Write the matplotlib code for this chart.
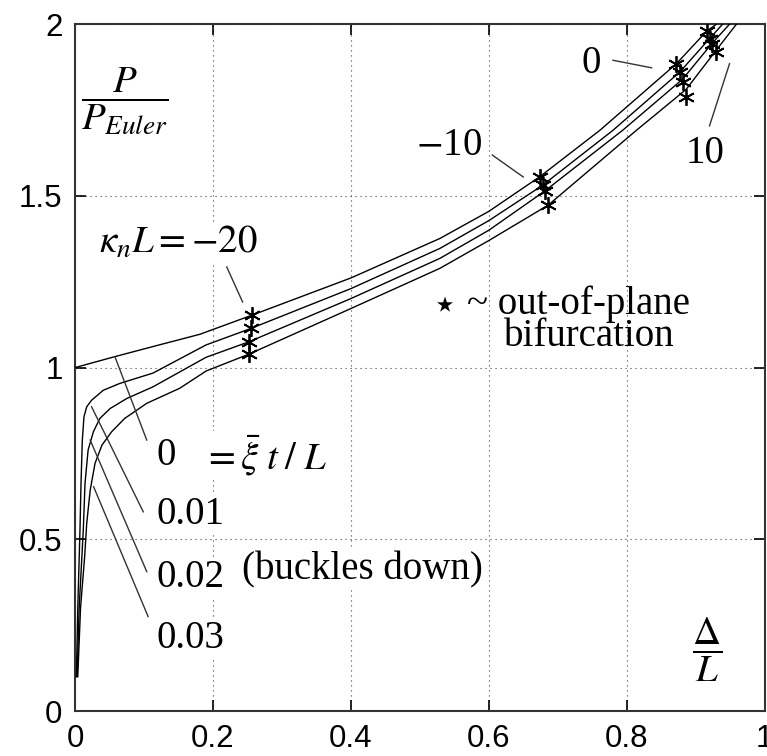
import numpy as np
import matplotlib.pyplot as plt

plt.rcParams['mathtext.fontset'] = 'stix'
plt.rcParams['font.family'] = ['Liberation Sans', 'DejaVu Sans']

serif = ['Liberation Serif', 'DejaVu Serif']

# load-deflection curves, one per imperfection xi*t/L
xi_labels = ['0', '0.01', '0.02', '0.03']

c0_x = [0, 0.056, 0.12, 0.181, 0.257, 0.4, 0.529, 0.6, 0.674, 0.761, 0.872, 0.916, 0.930]
c0_y = [1.0, 1.031, 1.065, 1.097, 1.153, 1.261, 1.376, 1.455, 1.556, 1.691, 1.885, 1.98, 2.0]

c1_x = [0.002, 0.004, 0.0072, 0.0087, 0.0106, 0.013, 0.017, 0.024, 0.041, 0.065, 0.113, 0.19,
        0.255, 0.4, 0.529, 0.6, 0.678, 0.780, 0.877, 0.920, 0.939]
c1_y = [0.1, 0.3, 0.527, 0.663, 0.789, 0.857, 0.886, 0.905, 0.934, 0.954, 0.984, 1.066,
        1.114, 1.230, 1.347, 1.428, 1.531, 1.691, 1.861, 1.958, 2.0]

c2_x = [0.003, 0.006, 0.012, 0.0145, 0.019, 0.0266, 0.036, 0.051, 0.075, 0.113, 0.19, 0.252,
        0.4, 0.529, 0.6, 0.681, 0.794, 0.881, 0.924, 0.949]
c2_y = [0.1, 0.3, 0.527, 0.663, 0.76, 0.813, 0.852, 0.881, 0.91, 0.944, 1.03, 1.075,
        1.201, 1.318, 1.40, 1.514, 1.691, 1.84, 1.945, 2.0]

c3_x = [0.004, 0.008, 0.014, 0.017, 0.022, 0.029, 0.039, 0.053, 0.072, 0.104, 0.152, 0.19,
        0.252, 0.4, 0.529, 0.6, 0.686, 0.814, 0.886, 0.930, 0.959]
c3_y = [0.1, 0.3, 0.45, 0.547, 0.643, 0.721, 0.774, 0.813, 0.852, 0.896, 0.94, 0.99,
        1.039, 1.172, 1.289, 1.37, 1.473, 1.691, 1.81, 1.925, 2.0]

# out-of-plane bifurcation points, for kappa_n L = -20, -10, 0, 10
kappa = [-20, -10, 0, 10]
star_x = [[0.257, 0.255, 0.252, 0.252],
          [0.674, 0.678, 0.681, 0.686],
          [0.872, 0.877, 0.881, 0.886],
          [0.916, 0.920, 0.924, 0.930]]
star_y = [[1.153, 1.114, 1.075, 1.039],
          [1.556, 1.531, 1.514, 1.473],
          [1.885, 1.861, 1.832, 1.788],
          [1.98, 1.958, 1.943, 1.919]]

fig = plt.figure(figsize=(7.67, 7.56), dpi=100)
ax = fig.add_axes([0.0978, 0.0595, 0.8992, 0.9085])

for cx, cy in [(c0_x, c0_y), (c1_x, c1_y), (c2_x, c2_y), (c3_x, c3_y)]:
    ax.plot(cx, cy, color='black', lw=1.0, zorder=3)

for sx, sy in zip(star_x, star_y):
    ax.plot(sx, sy, ls='none', marker=(6, 2, 0), ms=12, mew=1.3, color='black', zorder=4)

ax.set_xlim(0, 1)
ax.set_ylim(0, 2)
ax.set_xticks([0, 0.2, 0.4, 0.6, 0.8, 1])
ax.set_xticklabels(['0', '0.2', '0.4', '0.6', '0.8', '1'])
ax.set_yticks([0, 0.5, 1, 1.5, 2])
ax.set_yticklabels(['0', '0.5', '1', '1.5', '2'])
ax.tick_params(direction='in', length=8, width=1.2, labelsize=22.5, pad=9, top=True, right=True)
ax.grid(True, ls=(0, (1, 3.5)), lw=0.8, color='#444444', zorder=0)
for sp in ax.spines.values():
    sp.set_linewidth(1.5)
    sp.set_color('#333333')

box = dict(facecolor='white', edgecolor='none', pad=1)
tsize = 28

# axis labels as fractions
ax.text(0.072, 1.775, r'$\dfrac{P}{P_{Euler}}$', fontsize=tsize, ha='center', va='center', bbox=box, zorder=2)
ax.text(0.916, 0.178, r'$\dfrac{\Delta}{L}$', fontsize=tsize, ha='center', va='center', bbox=box, zorder=2)

# kappa labels with leader lines
ax.text(0.035, 1.362, r'$\kappa_n L = -20$', fontsize=tsize, ha='left', va='center', bbox=box, zorder=2)
ax.plot([0.22, 0.243], [1.293, 1.191], color='#333333', lw=1.0, zorder=3)
ax.text(0.590, 1.648, r'$-$' + '10', fontsize=tsize, family=serif, ha='right', va='center', bbox=box, zorder=2)
ax.plot([0.605, 0.650], [1.619, 1.555], color='#333333', lw=1.0, zorder=3)
ax.text(0.748, 1.885, '0', fontsize=tsize, family=serif, ha='center', va='center', bbox=box, zorder=2)
ax.plot([0.780, 0.836], [1.895, 1.873], color='#333333', lw=1.0, zorder=3)
ax.text(0.913, 1.624, '10', fontsize=tsize, family=serif, ha='center', va='center', bbox=box, zorder=2)
ax.plot([0.949, 0.920], [1.885, 1.704], color='#333333', lw=1.0, zorder=3)

ax.text(0.537, 1.180, '\u22c6', fontsize=30, family=['DejaVu Sans'], ha='center', va='center', zorder=2)
ax.text(0.568, 1.186, '~ out-of-plane', fontsize=tsize, family=serif, ha='left', va='center', zorder=2)
ax.text(0.622, 1.092, 'bifurcation', fontsize=tsize, family=serif, ha='left', va='center', zorder=2)

# imperfection labels with leader lines
xi_text_y = [0.745, 0.571, 0.39, 0.212]
leaders = [([0.058, 0.104], [1.031, 0.789]),
           ([0.024, 0.099], [0.886, 0.58]),
           ([0.022, 0.104], [0.789, 0.406]),
           ([0.027, 0.106], [0.653, 0.275])]
for lab, ty, (lx, ly) in zip(xi_labels, xi_text_y, leaders):
    ax.text(0.118, ty, lab, fontsize=tsize, family=serif, ha='left', va='center', bbox=box, zorder=2)
    ax.plot(lx, ly, color='#333333', lw=1.0, zorder=3)
ax.text(0.185, 0.745, r'$=\bar{\xi}\;t\;/\;L$', fontsize=tsize, ha='left', va='center', bbox=box, zorder=2)
ax.text(0.242, 0.41, '(buckles down)', fontsize=tsize, family=serif, ha='left', va='center', bbox=box, zorder=2)

fig.savefig('out.png', dpi=100)
